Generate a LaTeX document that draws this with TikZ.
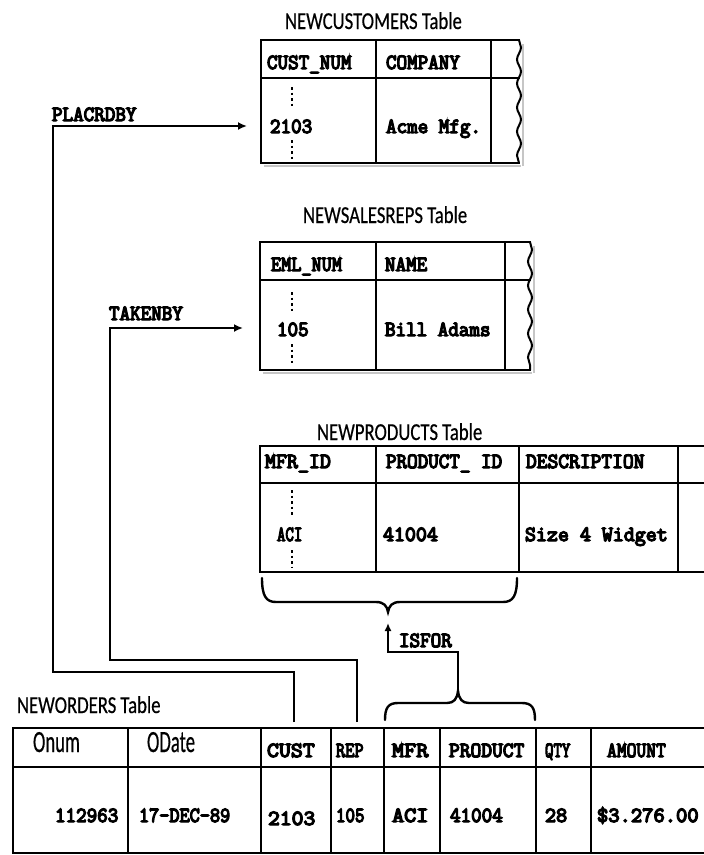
\documentclass[tikz,border=0pt]{standalone}
\usepackage{fontspec}
\setmainfont{Carlito}[FakeBold=0.5]
\newfontfamily\monob{Latin Modern Mono}[FakeBold=6]
\usepackage{graphicx}
\usetikzlibrary{arrows.meta,decorations.pathmorphing}
\newcommand\mt[2][1]{\scalebox{#1}[1.05]{\monob\fontsize{20.5}{20.5}\selectfont #2}}
\newcommand\sanst[2][1.3]{\scalebox{1}[#1]{\fontsize{18.7}{18.7}\selectfont #2}}
\begin{document}
\begin{tikzpicture}[x=1pt,y=-1pt,
  lbl/.style={anchor=base west,inner sep=0pt,outer sep=0pt},
  outer/.style={line width=2.8pt,line cap=rect},
  inner/.style={line width=2.2pt},
  shadowline/.style={line width=2.5pt,gray!45},
  wavy/.style={line width=2pt,decorate,decoration={snake,amplitude=2pt,segment length=24pt}},
  dotcol/.style={line width=2pt,dash pattern=on 2.5pt off 3pt},
  conn/.style={line width=2.4pt},
  arr/.style={-{Latex[length=9pt,width=8pt]}},
  brace/.style={line width=2.4pt,line cap=round}]
\useasboundingbox (0,0) rectangle (704,855);
\fill[white] (0,0) rectangle (704,855);

% ---------------- NEWCUSTOMERS
\node[lbl] (tcust) at (285,29) {\sanst{NEWCUSTOMERS Table}};
\draw[shadowline] (264,166) -- (521,166);
\draw[shadowline] (523,44) -- (523,166);
\draw[outer] (519,40) -- (261,40) -- (261,163) -- (519,163);
\draw[outer] (261,78) -- (519,78);
\draw[inner] (376,40) -- (376,163);
\draw[inner] (491,40) -- (491,163);
\draw[wavy] (519,40) -- (519,163);
\node[lbl] (hcustnum) at (267,69) {\mt{CUST\_NUM}};
\node[lbl] (hcompany) at (386,69) {\mt{COMPANY}};
\node[lbl] (dcustnum) at (270,133) {\mt{2103}};
\node[lbl] (dcompany) at (386,133) {\mt{Acme Mfg.}};
\draw[dotcol] (292,87) -- (292,108);
\draw[dotcol] (292,140) -- (292,160);

% ---------------- NEWSALESREPS
\node[lbl] (treps) at (303,223) {\sanst{NEWSALESREPS Table}};
\draw[shadowline] (263,373) -- (532,373);
\draw[shadowline] (534,246) -- (534,373);
\draw[outer] (530,242) -- (260,242) -- (260,370) -- (530,370);
\draw[outer] (260,280) -- (530,280);
\draw[inner] (376,242) -- (376,370);
\draw[inner] (505,242) -- (505,370);
\draw[wavy] (530,242) -- (530,370);
\node[lbl] (hempl) at (271,271) {\mt[0.96]{EML\_NUM}};
\node[lbl] (hname) at (385,271) {\mt{NAME}};
\node[lbl] (dempl) at (277,336) {\mt{105}};
\node[lbl] (dname) at (385,336) {\mt{Bill Adams}};
\draw[dotcol] (292,292) -- (292,312);
\draw[dotcol] (292,344) -- (292,364);

% ---------------- NEWPRODUCTS
\node[lbl] (tprod) at (317,440) {\sanst{NEWPRODUCTS Table}};
\draw[outer] (704,446) -- (260,446) -- (260,572) -- (704,572);
\draw[outer] (260,483) -- (704,483);
\draw[inner] (376,446) -- (376,572);
\draw[inner] (519,446) -- (519,572);
\draw[inner] (678,446) -- (678,572);
\node[lbl] (hmfrid) at (265,468) {\mt[1.04]{MFR\_ID}};
\node[lbl] (hprodid) at (386,468) {\mt{PRODUCT\_ ID}};
\node[lbl] (hdesc) at (526,468) {\mt[1.02]{DESCRIPTION}};
\node[lbl] (dmfrid) at (277,541) {\mt[0.8]{ACI}};
\node[lbl] (dprodid) at (383,541) {\mt[1.04]{41004}};
\node[lbl] (ddesc) at (525,541) {\mt[1.04]{Size 4 Widget}};
\draw[dotcol] (292,490) -- (292,516);
\draw[dotcol] (292,550) -- (292,568);

% upper brace (under MFR_ID / PRODUCT_ID)
\coordinate (ubtip) at (388,612);
\draw[brace] (262,578) .. controls (262,596) and (266,602) .. (276,602)
  -- (376,602) .. controls (384,602) and (387,606) .. (ubtip)
  .. controls (389,606) and (392,602) .. (400,602)
  -- (503,602) .. controls (513,602) and (517,596) .. (517,578);

% ---------------- NEWORDERS
\node[lbl] (tord) at (17,713) {\sanst{NEWORDERS Table}};
\draw[outer] (704,728) -- (13,728) -- (13,853) -- (704,853);
\draw[outer] (13,767) -- (704,767);
\foreach \cx in {128,261,331,384,440,536,591}
  \draw[inner,line width=2.6pt] (\cx,728) -- (\cx,853);
\node[lbl] (honum) at (33,752) {\sanst[1.65]{Onum}};
\node[lbl] (hodate) at (147,752) {\sanst[1.65]{ODate}};
\node[lbl] (hcust) at (267,757) {\mt[1.13]{CUST}};
\node[lbl] (hrep) at (336,757) {\mt[0.87]{REP}};
\node[lbl] (hmfr) at (392,757) {\mt[1.15]{MFR}};
\node[lbl] (hproduct) at (449,757) {\mt[1.02]{PRODUCT}};
\node[lbl] (hqty) at (545,757) {\mt[0.8]{QTY}};
\node[lbl] (hamount) at (607,757) {\mt[0.93]{AMOUNT}};
\node[lbl] (donum) at (55,822) {\mt{112963}};
\node[lbl] (dodate) at (139,822) {\mt[0.96]{17-DEC-89}};
\node[lbl] (dcust) at (268,825) {\mt[1.12]{2103}};
\node[lbl] (drep) at (336,822) {\mt[0.9]{105}};
\node[lbl] (dmfr) at (392,822) {\mt[1.15]{ACI}};
\node[lbl] (dproduct) at (450,822) {\mt{41004}};
\node[lbl] (dqty) at (545,822) {\mt[1.05]{28}};
\node[lbl] (damount) at (597,822) {\mt[1.07]{\$3.276.00}};

% lower brace (over MFR / PRODUCT)
\coordinate (lbtip) at (458,691);
\draw[brace] (385,720) .. controls (385,708) and (388,703) .. (398,703)
  -- (447,703) .. controls (454,703) and (457,699) .. (lbtip)
  .. controls (459,699) and (462,703) .. (469,703)
  -- (522,703) .. controls (532,703) and (535,708) .. (535,720);

% ---------------- connectors
\coordinate (custTop) at (294,722);
\coordinate (repTop) at (357,722);
\coordinate (pbTip) at (247,126);
\coordinate (tbTip) at (243,328);
\coordinate (ifTip) at (388,623);

\draw[conn,arr] (custTop) -- (294,672) -- (53,672) -- (53,126) -- (pbTip);
\draw[conn,arr] (repTop) -- (357,660) -- (110,660) -- (110,328) -- (tbTip);
\draw[conn,-{Latex[length=8pt,width=7pt]}] (lbtip) -- (458,652) -- (388,652) -- (ifTip);

\node[lbl] (placedby) at (52,121) {\mt{PLACRDBY}};
\node[lbl] (takenby) at (109,320) {\mt{TAKENBY}};
\node[lbl] (isfor) at (399,647) {\mt{ISFOR}};
\end{tikzpicture}
\end{document}
